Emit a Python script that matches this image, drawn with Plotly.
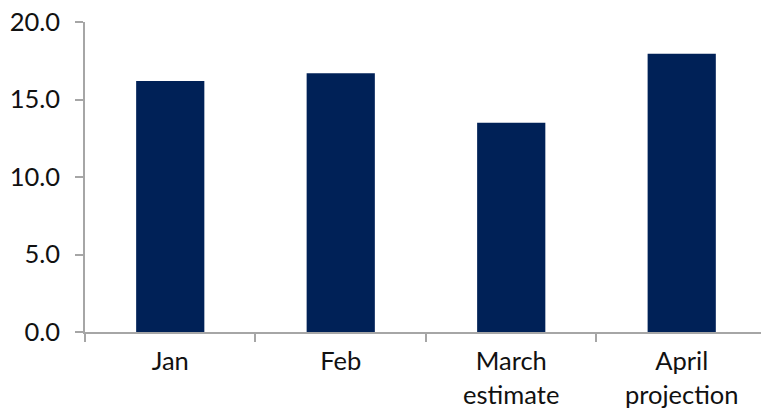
import plotly.graph_objects as go

categories = ["Jan", "Feb", "March<br>estimate", "April<br>projection"]
values = [16.2, 16.7, 13.5, 17.95]
y_ticks = [0, 5, 10, 15, 20]
y_tick_labels = ["0.0", "5.0", "10.0", "15.0", "20.0"]

axis_gray = "#a6a6a6"
navy = "#002157"

fig = go.Figure(
    go.Bar(x=categories, y=values, marker=dict(color=navy, line=dict(width=0)))
)

fig.update_layout(
    width=761,
    height=412,
    margin=dict(l=85, r=0, t=22, b=80),
    paper_bgcolor="white",
    plot_bgcolor="white",
    bargap=0.6,
    showlegend=False,
    font=dict(family="Lato", size=24, color="#111111"),
)

fig.update_xaxes(
    type="category",
    range=[-0.5, 3.465],
    tickson="boundaries",
    ticks="outside",
    ticklen=8,
    tickwidth=1.5,
    tickcolor=axis_gray,
    showline=True,
    linecolor=axis_gray,
    linewidth=1.5,
    showgrid=False,
    zeroline=False,
    automargin=False,
    ticklabelstandoff=6,
    tickfont=dict(size=25.5),
)

fig.update_yaxes(
    range=[0, 20],
    tickvals=y_ticks,
    ticktext=y_tick_labels,
    ticks="outside",
    ticklen=8,
    tickwidth=1.5,
    tickcolor=axis_gray,
    showline=True,
    linecolor=axis_gray,
    linewidth=1.5,
    showgrid=False,
    zeroline=False,
    automargin=False,
    ticklabelstandoff=10,
    tickfont=dict(size=25.5),
)

fig.write_html("out.html")
